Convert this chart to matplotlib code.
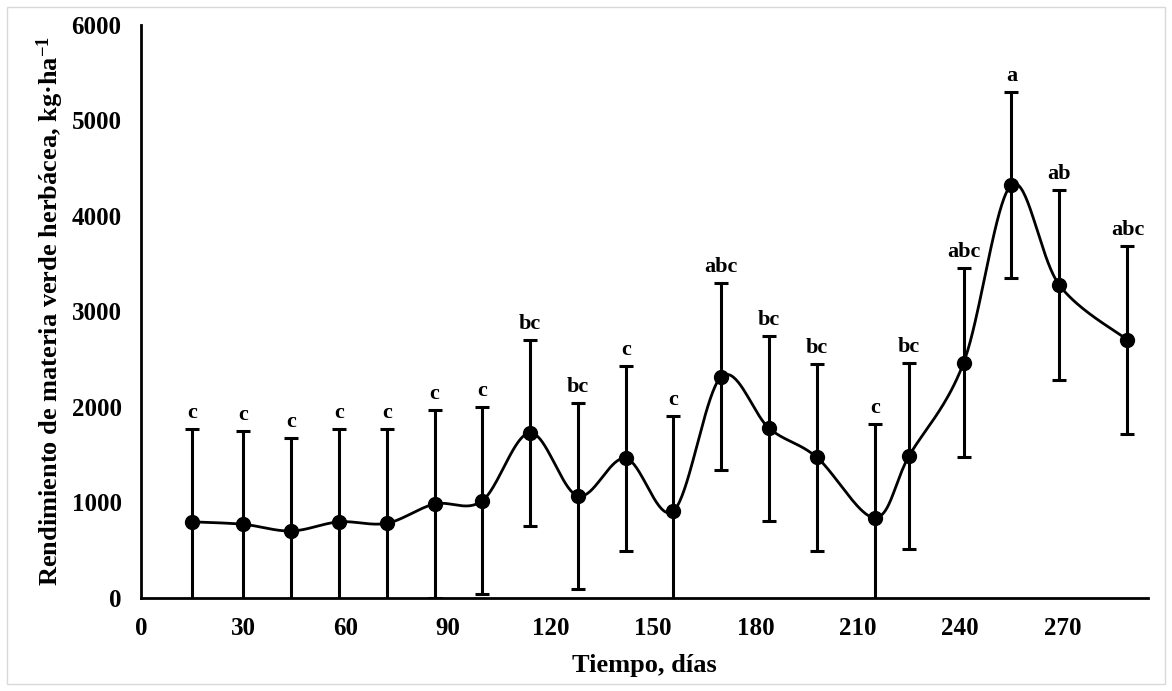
"""
Rendimiento de materia verde herbácea a lo largo del tiempo.

Curva suavizada (estilo Excel) con barras de error y letras de
significancia sobre cada punto. Guarda la figura en out.png.
"""

import numpy as np
import matplotlib
matplotlib.use("Agg")
import matplotlib.pyplot as plt
from matplotlib.patches import Rectangle

# ── Datos ─────────────────────────────────────────────────────────────────────

dias = [15, 30, 44, 58, 72, 86, 100, 114, 128, 142,
        156, 170, 184, 198, 215, 225, 241, 255, 269, 289]
rendimiento = [793, 767, 697, 793, 778, 980, 1015, 1727, 1064, 1459,
               907, 2314, 1774, 1469, 836, 1483, 2461, 4324, 3276, 2699]
error = [970, 981, 978, 974, 989, 980, 978, 975, 971, 971,
         995, 979, 970, 979, 983, 978, 990, 978, 995, 985]
letras = ["c", "c", "c", "c", "c", "c", "c", "bc", "bc", "c",
          "c", "abc", "bc", "bc", "c", "bc", "abc", "a", "ab", "abc"]

x_ticks = [0, 30, 60, 90, 120, 150, 180, 210, 240, 270]
y_ticks = [0, 1000, 2000, 3000, 4000, 5000, 6000]

# ── Estilo ────────────────────────────────────────────────────────────────────

plt.rcParams["font.family"] = ["Liberation Serif", "DejaVu Serif"]
plt.rcParams["font.weight"] = "bold"
plt.rcParams["mathtext.fontset"] = "custom"
plt.rcParams["mathtext.rm"] = "Liberation Serif:bold"
plt.rcParams["mathtext.it"] = "Liberation Serif:bold"
plt.rcParams["mathtext.bf"] = "Liberation Serif:bold"


def suavizar(x, y, n=40):
    """Curva tipo 'línea suavizada' de Excel (Bezier Catmull-Rom)."""
    p = np.column_stack([x, y]).astype(float)
    ext = np.vstack([p[0], p, p[-1]])
    t = np.linspace(0, 1, n)[:, None]
    tramos = []
    for i in range(len(p) - 1):
        p0, p3 = ext[i + 1], ext[i + 2]
        p1 = p0 + (ext[i + 2] - ext[i]) / 6.0
        p2 = p3 - (ext[i + 3] - ext[i + 1]) / 6.0
        seg = ((1 - t) ** 3) * p0 + 3 * ((1 - t) ** 2) * t * p1 \
            + 3 * (1 - t) * t ** 2 * p2 + t ** 3 * p3
        tramos.append(seg if i == 0 else seg[1:])
    curva = np.vstack(tramos)
    return curva[:, 0], curva[:, 1]


# ── Figura ────────────────────────────────────────────────────────────────────

fig = plt.figure(figsize=(11.72, 6.91), dpi=100)
ax = fig.add_axes([0.1203, 0.1353, 0.8592, 0.8285])

# marco gris claro de la imagen original
fig.patches.append(Rectangle((7 / 1172, 7 / 691), 1158 / 1172, 677 / 691,
                             transform=fig.transFigure, fill=False,
                             edgecolor="#d9d9d9", linewidth=1))

xs, ys = suavizar(dias, rendimiento)
ax.plot(xs, ys, color="black", linewidth=2.0, zorder=3)

ax.errorbar(dias, rendimiento, yerr=error, fmt="o", color="black",
            markersize=10, elinewidth=2.2, capsize=5, capthick=2.2, zorder=4)

for x, y, e, txt in zip(dias, rendimiento, error, letras):
    ax.annotate(txt, (x, y + e), xytext=(0, 8), textcoords="offset points",
                ha="center", va="baseline", fontsize=16, fontweight="bold")

ax.set_xlim(0, 295)
ax.set_ylim(0, 6000)
ax.set_xticks(x_ticks)
ax.set_yticks(y_ticks)
ax.tick_params(length=0, labelsize=18, pad=14)

for side in ("top", "right"):
    ax.spines[side].set_visible(False)
for side in ("left", "bottom"):
    ax.spines[side].set_linewidth(2.0)
    ax.spines[side].set_zorder(5)

ax.set_xlabel("Tiempo, días", fontsize=19, fontweight="bold", labelpad=10)
ax.set_ylabel(r"Rendimiento de materia verde herbácea, kg·ha$^{-1}$",
              fontsize=19, fontweight="bold", labelpad=4)

fig.savefig("out.png", dpi=100)
